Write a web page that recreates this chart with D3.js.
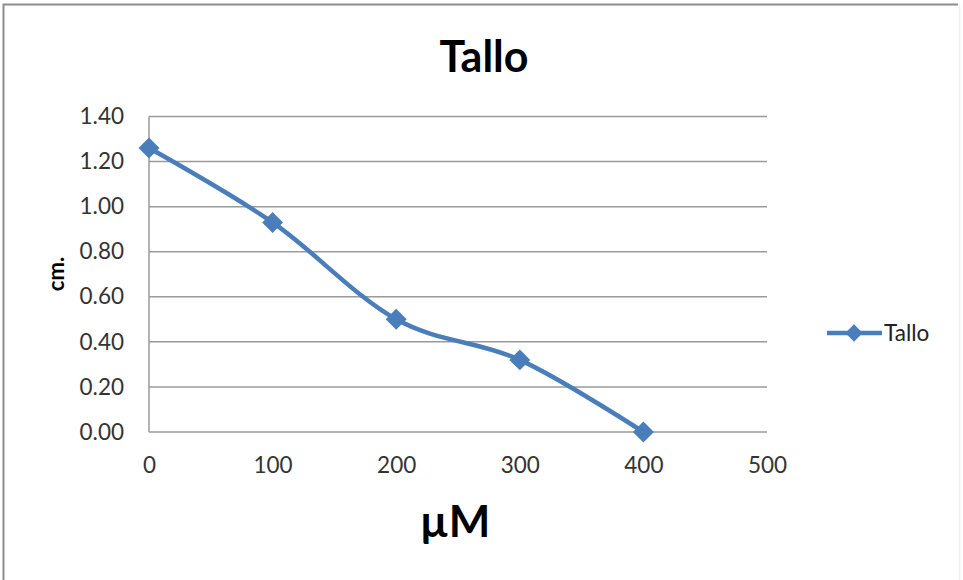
<!DOCTYPE html>
<html>
<head>
<meta charset="utf-8">
<script src="https://cdn.jsdelivr.net/npm/d3@7"></script>
<style>
  html, body { margin: 0; padding: 0; background: #fff; }
  svg { display: block; font-family: Lato, "Open Sans", "Liberation Sans", sans-serif; }
</style>
</head>
<body>
<svg id="chart" width="963" height="580"></svg>
<script>
// Stem length (cm) against concentration (µM)
const concentrations = [0, 100, 200, 300, 400];
const talloValues = [1.26, 0.93, 0.50, 0.32, 0.00];
const xTicks = [0, 100, 200, 300, 400, 500];
const yTicks = [0, 0.2, 0.4, 0.6, 0.8, 1.0, 1.2, 1.4];
const seriesName = "Tallo";
const chartTitle = "Tallo";
const xTitle = "µM";
const yTitle = "cm.";

const svg = d3.select("#chart");
const lineColor = "#4a7ebb";
const gridColor = "#9a9a9a";

// outer chart frame (left and top edges, faint right edge)
svg.append("path")
  .attr("d", "M3.5,585 V4.5 H958")
  .attr("fill", "none")
  .attr("stroke", "#8c8c8c")
  .attr("stroke-width", 2);
svg.append("line")
  .attr("x1", 959.5).attr("x2", 959.5).attr("y1", 4).attr("y2", 585)
  .attr("stroke", "#f0f0f0").attr("stroke-width", 1.5);

const plot = { left: 149, right: 767, top: 116.5, bottom: 432 };

const x = d3.scaleLinear().domain([0, 500]).range([plot.left, plot.right]);
const y = d3.scaleLinear().domain([0, 1.4]).range([plot.bottom, plot.top]);

// horizontal gridlines
svg.append("g")
  .selectAll("line")
  .data(yTicks)
  .join("line")
  .attr("x1", plot.left).attr("x2", plot.right)
  .attr("y1", d => y(d)).attr("y2", d => y(d))
  .attr("stroke", gridColor)
  .attr("stroke-width", 1.5);

// vertical axis line
svg.append("line")
  .attr("x1", plot.left).attr("x2", plot.left)
  .attr("y1", plot.top).attr("y2", plot.bottom)
  .attr("stroke", gridColor).attr("stroke-width", 1.5);

// y axis labels
const yAxis = d3.axisLeft(y).tickValues(yTicks).tickFormat(d3.format(".2f")).tickSize(0).tickPadding(25);
const gy = svg.append("g").attr("transform", `translate(${plot.left},0)`).call(yAxis);
gy.select(".domain").remove();
gy.selectAll("text")
  .attr("font-size", 22.5)
  .attr("fill", "#333")
  .attr("font-family", "Lato, 'Open Sans', sans-serif");

// x axis labels
const xAxis = d3.axisBottom(x).tickValues(xTicks).tickFormat(d3.format("d")).tickSize(0).tickPadding(25);
const gx = svg.append("g").attr("transform", `translate(0,${plot.bottom})`).call(xAxis);
gx.select(".domain").remove();
gx.selectAll("text")
  .attr("font-size", 22.5)
  .attr("fill", "#333")
  .attr("font-family", "Lato, 'Open Sans', sans-serif");

// smoothed series line
const line = d3.line()
  .x((d, i) => x(concentrations[i]))
  .y(d => y(d))
  .curve(d3.curveCardinal.tension(0));

svg.append("path")
  .datum(talloValues)
  .attr("d", line)
  .attr("fill", "none")
  .attr("stroke", lineColor)
  .attr("stroke-width", 4.5)
  .attr("stroke-linejoin", "round");

// diamond markers
const diamond = d3.symbol().type(d3.symbolDiamond2).size(280);
svg.append("g")
  .selectAll("path")
  .data(talloValues)
  .join("path")
  .attr("transform", (d, i) => `translate(${x(concentrations[i])},${y(d)})`)
  .attr("d", diamond)
  .attr("fill", lineColor);

// title
svg.append("text")
  .attr("x", 484).attr("y", 72)
  .attr("text-anchor", "middle")
  .attr("font-size", 43)
  .attr("font-weight", "bold")
  .attr("fill", "#000")
  .text(chartTitle);

// x axis title
svg.append("text")
  .attr("x", 455).attr("y", 537)
  .attr("text-anchor", "middle")
  .attr("font-size", 44)
  .attr("font-weight", "bold")
  .attr("fill", "#000")
  .text(xTitle);

// y axis title
svg.append("text")
  .attr("transform", "translate(64,274) rotate(-90)")
  .attr("text-anchor", "middle")
  .attr("font-size", 22)
  .attr("font-weight", "bold")
  .attr("fill", "#000")
  .text(yTitle);

// legend
const lg = svg.append("g").attr("transform", "translate(827,333)");
lg.append("line")
  .attr("x1", 0).attr("x2", 55).attr("y1", 0).attr("y2", 0)
  .attr("stroke", lineColor).attr("stroke-width", 4.5);
lg.append("path")
  .attr("transform", "translate(27,0)")
  .attr("d", d3.symbol().type(d3.symbolDiamond2).size(190))
  .attr("fill", lineColor);
lg.append("text")
  .attr("x", 57).attr("y", 0)
  .attr("dy", "0.35em")
  .attr("font-size", 22.5)
  .attr("fill", "#222")
  .text(seriesName);
</script>
</body>
</html>
